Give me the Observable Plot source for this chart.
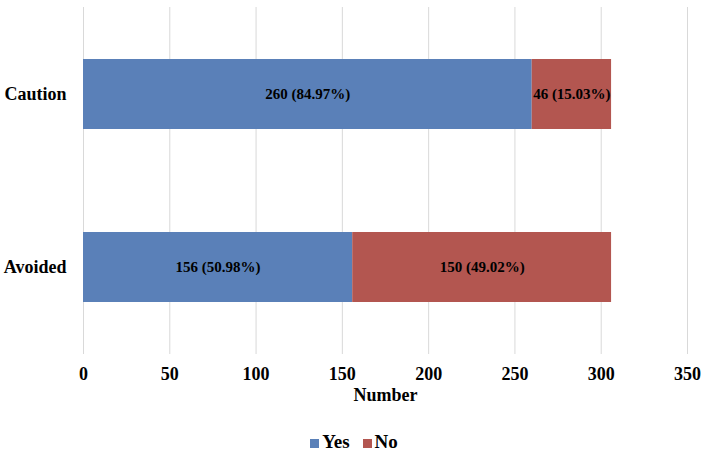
<!DOCTYPE html>
<html>
<head>
<meta charset="utf-8">
<script src="https://cdn.jsdelivr.net/npm/d3@7"></script>
<script src="https://cdn.jsdelivr.net/npm/@observablehq/plot@0.6"></script>
<style>
  body { margin: 0; background: #fff; font-family: "Liberation Serif", "Times New Roman", serif; }
  #legend { display: flex; justify-content: center; gap: 13px; font-weight: bold; font-size: 19px; margin-top: 12px; line-height: 20px; }
  #legend span.sw { display: inline-block; width: 9px; height: 9px; margin-right: 3px; }
</style>
</head>
<body>
<div id="chart"></div>
<div id="legend"></div>
<script>
const categories = ["Caution", "Avoided"];
const answers = ["Yes", "No"];
const yesValues = [260, 156];
const noValues = [46, 150];
const yesPct = ["84.97%", "50.98%"];
const noPct = ["15.03%", "49.02%"];
const xTicks = [0, 50, 100, 150, 200, 250, 300, 350];
const colors = ["#5A80B8", "#B35650"];

const data = [];
categories.forEach((c, i) => {
  data.push({cat: c, answer: "Yes", value: yesValues[i], label: `${yesValues[i]} (${yesPct[i]})`});
  data.push({cat: c, answer: "No", value: noValues[i], label: `${noValues[i]} (${noPct[i]})`});
});

const chart = Plot.plot({
  width: 708,
  height: 420,
  marginLeft: 83,
  marginRight: 21,
  marginTop: 7,
  marginBottom: 66,
  style: {fontFamily: "'Liberation Serif', 'Times New Roman', serif", fontWeight: "bold", color: "#000", background: "#fff"},
  x: {domain: [0, 350], ticks: xTicks, label: null},
  y: {domain: categories, paddingInner: 0.597, paddingOuter: 0.2985, label: null},
  color: {domain: answers, range: colors},
  marks: [
    Plot.gridX(xTicks, {stroke: "#d9d9d9", strokeOpacity: 1, strokeWidth: 1}),
    Plot.barX(data, Plot.stackX({x: "value", y: "cat", fill: "answer", order: null})),
    Plot.text(data, Plot.stackX({x: "value", y: "cat", z: "answer", order: null, text: "label", fill: "#000", fontSize: 15, fontWeight: "bold"})),
    Plot.axisX(xTicks, {tickSize: 0, tickPadding: 13, fontSize: 18, fontWeight: "bold", label: null}),
    Plot.axisY({tickSize: 0, tickPadding: 17, fontSize: 18, fontWeight: "bold", label: null}),
    Plot.text(["Number"], {frameAnchor: "bottom", dy: 46, fontSize: 18, fontWeight: "bold", fill: "#000"})
  ]
});
document.getElementById("chart").appendChild(chart);

const legend = document.getElementById("legend");
answers.forEach((a, i) => {
  const item = document.createElement("span");
  const sw = document.createElement("span");
  sw.className = "sw";
  sw.style.background = colors[i];
  item.appendChild(sw);
  item.appendChild(document.createTextNode(a));
  legend.appendChild(item);
});
</script>
</body>
</html>
